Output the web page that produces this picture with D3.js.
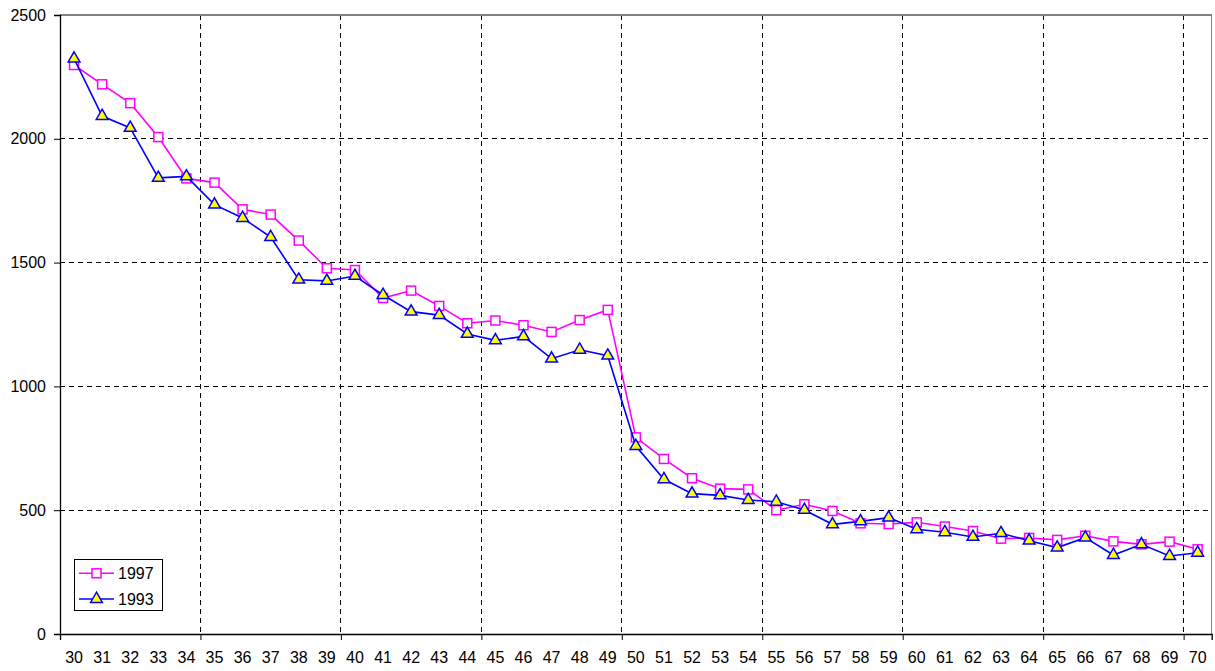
<!DOCTYPE html>
<html>
<head>
<meta charset="utf-8">
<script src="https://cdn.jsdelivr.net/npm/d3@7"></script>
<style>
  html, body { margin: 0; padding: 0; background: #fff; }
  svg { display: block; font-family: "Liberation Sans", Arial, sans-serif; }
</style>
</head>
<body>
<svg id="chart" width="1215" height="671"></svg>
<script>
const categories = [30,31,32,33,34,35,36,37,38,39,40,41,42,43,44,45,46,47,48,49,50,51,52,53,54,55,56,57,58,59,60,61,62,63,64,65,66,67,68,69,70];
const series1997 = [2298,2220,2144,2007,1840,1823,1715,1694,1589,1477,1470,1357,1387,1325,1255,1266,1247,1220,1268,1309,794,707,629,587,584,500,524,497,447,444,451,434,416,385,388,380,397,374,362,373,342];
const series1993 = [2324,2092,2044,1842,1848,1734,1680,1603,1431,1426,1446,1369,1302,1288,1212,1186,1202,1112,1148,1124,759,625,567,560,541,534,501,443,455,470,423,411,392,407,377,349,389,319,362,315,328];
const yTicks = [0,500,1000,1500,2000,2500];
const xTickIndex = [0,5,10,15,20,25,30,35,40];
const seriesNames = ["1997","1993"];

const svg = d3.select("#chart");
const L = 60, R = 1211.7, T = 15, B = 634;

const x = d3.scaleBand().domain(categories).range([L, R]).padding(0);
const xi = d3.scaleLinear().domain([0, categories.length]).range([L, R]);
const y = d3.scaleLinear().domain([0, 2500]).range([B, T]);
const cx = d => x(d) + x.bandwidth() / 2;

// gridlines
const grid = svg.append("g");
grid.selectAll("line.h").data(yTicks.filter(v => v > 0 && v < 2500)).enter().append("line")
  .attr("x1", L).attr("x2", R).attr("y1", d => y(d)).attr("y2", d => y(d))
  .attr("stroke", "#000").attr("stroke-width", 1).attr("stroke-dasharray", "5,4").attr("shape-rendering", "crispEdges");
grid.selectAll("line.v").data(xTickIndex.filter(i => i > 0)).enter().append("line")
  .attr("x1", d => xi(d)).attr("x2", d => xi(d)).attr("y1", T).attr("y2", B)
  .attr("stroke", "#000").attr("stroke-width", 1).attr("stroke-dasharray", "5,4").attr("shape-rendering", "crispEdges");

// frame (top/right grey)
svg.append("path").attr("d", `M${L},${T}H${R}V${B}`).attr("fill", "none")
  .attr("stroke", "#808080").attr("stroke-width", 1.3).attr("shape-rendering", "crispEdges");

// y axis
const yAxis = svg.append("g").attr("transform", `translate(${L},0)`)
  .call(d3.axisLeft(y).tickValues(yTicks).tickSize(6).tickPadding(8).tickFormat(d3.format("d")));
yAxis.select(".domain").attr("stroke", "#000").attr("stroke-width", 1.3);
yAxis.selectAll(".tick line").attr("stroke", "#000");
yAxis.selectAll("text").attr("font-size", 16).attr("fill", "#000").style("font-family", "Liberation Sans, Arial, sans-serif");

// x axis ticks
const xAxisT = svg.append("g").attr("transform", `translate(0,${B})`)
  .call(d3.axisBottom(xi).tickValues(xTickIndex).tickSize(6).tickFormat(""));
xAxisT.select(".domain").attr("stroke", "#000").attr("stroke-width", 1.3);
xAxisT.selectAll(".tick line").attr("stroke", "#000");
// x labels
const xAxisL = svg.append("g").attr("transform", `translate(0,${B})`)
  .call(d3.axisBottom(x).tickSize(0).tickPadding(18));
xAxisL.select(".domain").remove();
xAxisL.selectAll("text").attr("font-size", 16).attr("fill", "#000").style("font-family", "Liberation Sans, Arial, sans-serif");

const line = d3.line().x((d, i) => cx(categories[i])).y(d => y(d));
const tri = d3.symbol().type(d3.symbolTriangle).size(60);

// 1997
svg.append("path").datum(series1997).attr("d", line).attr("fill", "none")
  .attr("stroke", "#ff00ff").attr("stroke-width", 1.6);
svg.append("g").selectAll("rect").data(series1997).enter().append("rect")
  .attr("x", (d, i) => cx(categories[i]) - 4.5).attr("y", d => y(d) - 4.5)
  .attr("width", 9).attr("height", 9).attr("fill", "#fff").attr("stroke", "#ff00ff").attr("stroke-width", 1.5);

// 1993
svg.append("path").datum(series1993).attr("d", line).attr("fill", "none")
  .attr("stroke", "#0000ff").attr("stroke-width", 1.6);
svg.append("g").selectAll("path").data(series1993).enter().append("path")
  .attr("d", tri).attr("transform", (d, i) => `translate(${cx(categories[i])},${y(d)})`)
  .attr("fill", "#ffff00").attr("stroke", "#0000ff").attr("stroke-width", 1.5);

// legend
const lg = svg.append("g");
lg.append("rect").attr("x", 74.5).attr("y", 559.5).attr("width", 88).attr("height", 51)
  .attr("fill", "#fff").attr("stroke", "#000").attr("stroke-width", 1);
const ly = [573.3, 599];
lg.append("line").attr("x1", 79).attr("x2", 114).attr("y1", ly[0]).attr("y2", ly[0]).attr("stroke", "#ff00ff").attr("stroke-width", 1.6);
lg.append("rect").attr("x", 96.5 - 4.5).attr("y", ly[0] - 4.5).attr("width", 9).attr("height", 9)
  .attr("fill", "#fff").attr("stroke", "#ff00ff").attr("stroke-width", 1.5);
lg.append("line").attr("x1", 79).attr("x2", 114).attr("y1", ly[1]).attr("y2", ly[1]).attr("stroke", "#0000ff").attr("stroke-width", 1.6);
lg.append("path").attr("d", tri).attr("transform", `translate(96.5,${ly[1]})`)
  .attr("fill", "#ffff00").attr("stroke", "#0000ff").attr("stroke-width", 1.5);
lg.selectAll("text").data(seriesNames).enter().append("text")
  .attr("x", 118).attr("y", (d, i) => ly[i]).attr("dy", "0.35em")
  .attr("font-size", 16).attr("fill", "#000").text(d => d);
</script>
</body>
</html>
